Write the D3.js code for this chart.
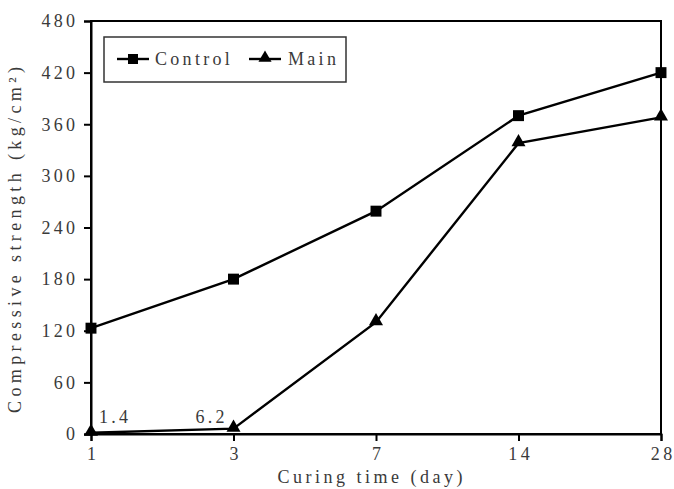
<!DOCTYPE html>
<html><head><meta charset="utf-8">
<script src="https://cdn.jsdelivr.net/npm/d3@7"></script>
<style>body{margin:0;background:#fff}svg{display:block}</style>
</head><body>
<script>
const categories = ["1","3","7","14","28"];
const controlValues = [123, 180, 259, 370, 420];
const mainValues = [1.4, 6.2, 130, 338, 368];
const yTicks = [0,60,120,180,240,300,360,420,480];
const annotations = [{cat:"1", v:1.4, text:"1.4"},{cat:"3", v:6.2, text:"6.2"}];

const W=674,H=489;
const L=91,R=661,T=21,B=434;
const font="'Liberation Serif','DejaVu Serif',serif";
const FS=18, LS=3.3, TXT="#3a3a3a";
const svg=d3.select("body").append("svg").attr("width",W).attr("height",H);
const x=d3.scalePoint().domain(categories).range([L,R]).padding(0);
const y=d3.scaleLinear().domain([0,480]).range([B,T]);

svg.append("rect").attr("x",L).attr("y",T).attr("width",R-L).attr("height",B-T)
  .attr("fill","none").attr("stroke","#000").attr("stroke-width",2);

const ya=svg.append("g").attr("transform",`translate(${L},0)`)
  .call(d3.axisLeft(y).tickValues(yTicks).tickSize(7).tickPadding(9));
const xa=svg.append("g").attr("transform",`translate(0,${B})`)
  .call(d3.axisBottom(x).tickSize(7).tickPadding(6));
[ya,xa].forEach(a=>{
  a.select(".domain").attr("stroke-width",2);
  a.selectAll(".tick line").attr("stroke-width",2);
  a.selectAll("text").attr("font-family",font).attr("font-size",FS).attr("fill",TXT).style("letter-spacing",LS+"px");
});
ya.selectAll("text").attr("dx",LS+"px");
xa.selectAll("text").attr("dx",(LS/2)+"px");

const line=d3.line().x((d,i)=>x(categories[i])).y(d=>y(d));
[controlValues,mainValues].forEach(vals=>{
  svg.append("path").datum(vals).attr("d",line).attr("fill","none")
    .attr("stroke","#000").attr("stroke-width",2.4);
});
const sq=d3.symbol().type(d3.symbolSquare).size(120);
const tri=d3.symbol().type(d3.symbolTriangle).size(85);
svg.selectAll(".cm").data(controlValues).enter().append("path")
  .attr("d",sq).attr("transform",(d,i)=>`translate(${x(categories[i])},${y(d)})`);
svg.selectAll(".mm").data(mainValues).enter().append("path")
  .attr("d",tri).attr("transform",(d,i)=>`translate(${x(categories[i])},${y(d)-1})`);

annotations.forEach((a,i)=>{
  svg.append("text").attr("x",x(a.cat)+(i==0?8:-38)).attr("y",423)
    .attr("font-family",font).attr("font-size",FS).attr("fill",TXT).style("letter-spacing",LS+"px").text(a.text);
});

// legend
const lg=svg.append("g");
lg.append("rect").attr("x",104).attr("y",37).attr("width",242).attr("height",45)
  .attr("fill","#fff").attr("stroke","#333").attr("stroke-width",1.5);
const ly=59;
const lsq=d3.symbol().type(d3.symbolSquare).size(100);
const ltri=d3.symbol().type(d3.symbolTriangle).size(75);
lg.append("line").attr("x1",117).attr("x2",149).attr("y1",ly).attr("y2",ly).attr("stroke","#000").attr("stroke-width",2.4);
lg.append("path").attr("d",lsq).attr("transform",`translate(133,${ly})`);
lg.append("text").attr("x",155).attr("y",ly+6).attr("font-family",font).attr("font-size",FS).attr("fill",TXT).style("letter-spacing",LS+"px").text("Control");
lg.append("line").attr("x1",249).attr("x2",281).attr("y1",ly).attr("y2",ly).attr("stroke","#000").attr("stroke-width",2.4);
lg.append("path").attr("d",ltri).attr("transform",`translate(265,${ly-1})`);
lg.append("text").attr("x",288).attr("y",ly+6).attr("font-family",font).attr("font-size",FS).attr("fill",TXT).style("letter-spacing",LS+"px").text("Main");

// axis titles
svg.append("text").attr("transform",`translate(21,${240}) rotate(-90)`).attr("text-anchor","middle")
  .attr("font-family",font).attr("font-size",FS).attr("fill",TXT)
  .attr("textLength",346).attr("lengthAdjust","spacing")
  .text("Compressive strength (kg/cm²)");
svg.append("text").attr("x",370).attr("y",483).attr("text-anchor","middle")
  .attr("font-family",font).attr("font-size",FS).attr("fill",TXT)
  .attr("textLength",185).attr("lengthAdjust","spacing")
  .text("Curing time (day)");
</script>
</body></html>
